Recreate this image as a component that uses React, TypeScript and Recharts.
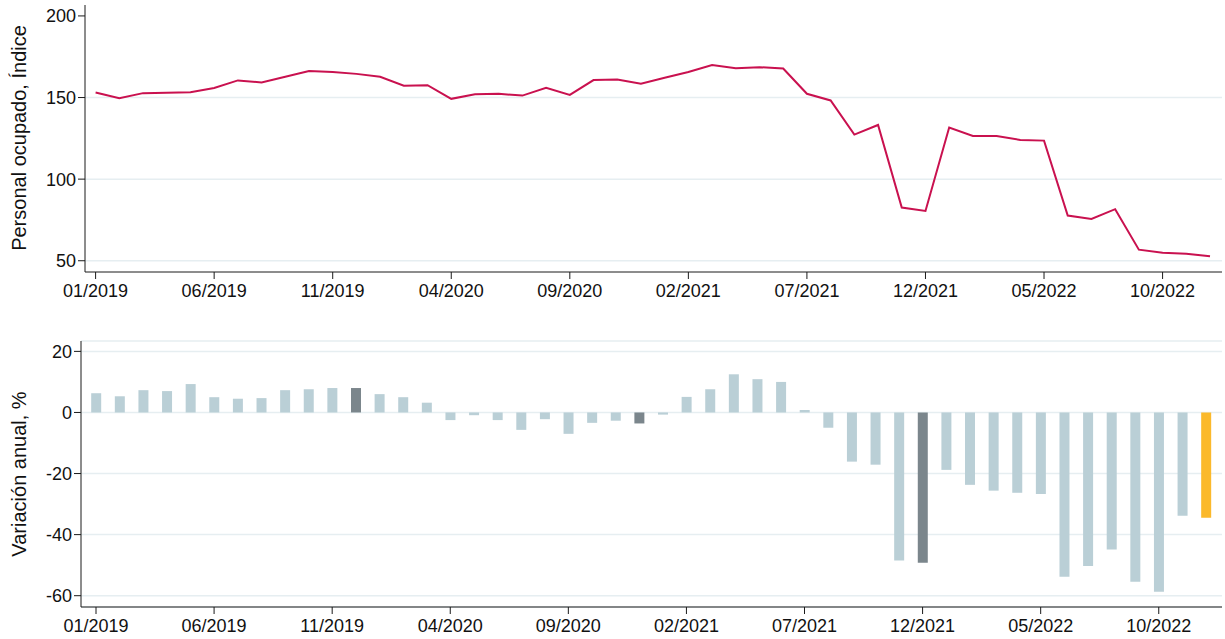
import React from 'react';
import { LineChart, Line, BarChart, Bar, Cell, XAxis, YAxis, CartesianGrid } from 'recharts';

const months = [
  '01/2019', '02/2019', '03/2019', '04/2019', '05/2019', '06/2019', '07/2019', '08/2019', '09/2019', '10/2019', '11/2019', '12/2019',
  '01/2020', '02/2020', '03/2020', '04/2020', '05/2020', '06/2020', '07/2020', '08/2020', '09/2020', '10/2020', '11/2020', '12/2020',
  '01/2021', '02/2021', '03/2021', '04/2021', '05/2021', '06/2021', '07/2021', '08/2021', '09/2021', '10/2021', '11/2021', '12/2021',
  '01/2022', '02/2022', '03/2022', '04/2022', '05/2022', '06/2022', '07/2022', '08/2022', '09/2022', '10/2022', '11/2022', '12/2022',
];

// personal ocupado, índice
const indexValues = [
  153.1, 149.6, 152.7, 153.0, 153.3, 155.9, 160.5, 159.2, 162.7, 166.2, 165.6, 164.5,
  162.7, 157.2, 157.6, 149.2, 152.0, 152.3, 151.2, 155.9, 151.6, 160.7, 161.0, 158.4,
  162.1, 165.6, 169.9, 168.0, 168.6, 167.8, 152.3, 148.2, 127.3, 133.2, 82.6, 80.5,
  131.6, 126.4, 126.4, 124.0, 123.6, 77.7, 75.6, 81.6, 56.8, 54.9, 54.3, 52.7,
];

// variación anual, %
const yoyValues = [
  6.3, 5.3, 7.3, 7.0, 9.3, 5.0, 4.5, 4.7, 7.3, 7.6, 8.0, 8.0,
  6.0, 5.0, 3.2, -2.5, -0.9, -2.5, -5.7, -2.2, -7.0, -3.4, -2.7, -3.6,
  -0.7, 5.1, 7.6, 12.5, 10.9, 10.0, 0.8, -5.0, -16.1, -17.1, -48.5, -49.2,
  -18.8, -23.7, -25.6, -26.3, -26.7, -53.8, -50.3, -44.9, -55.4, -58.7, -33.8, -34.5,
];

const decemberIdx = [11, 23, 35];
const lastIdx = 47;

const topTicks = [50, 100, 150, 200];
const bottomTicks = [20, 0, -20, -40, -60];
const xTickIdx = [0, 5, 10, 15, 20, 25, 30, 35, 40, 45];

const lineData = indexValues.map((v, i) => ({ i, m: months[i], v }));
const barData = yoyValues.map((v, i) => ({ i, m: months[i], v }));

const FONT = '"Liberation Sans", Arial, sans-serif';
const AXIS = '#1a1a1a';
const GRID = '#e6eef1';

function YTitle({ text, cy }: { text: string; cy: number }) {
  return (
    <text
      transform={`translate(19, ${cy}) rotate(-90)`}
      textAnchor="middle"
      dominantBaseline="central"
      fontSize={20}
      fill="#111"
      fontFamily={FONT}
    >
      {text}
    </text>
  );
}

function barColor(i: number) {
  if (i === lastIdx) return '#fbb92b';
  if (decemberIdx.includes(i)) return '#7b868c';
  return '#bacfd6';
}

export default function App() {
  const tick = { fontSize: 18, fill: '#111', fontFamily: FONT };
  return (
    <div style={{ position: 'absolute', left: 0, top: 0, width: 1225, height: 639, background: '#fff' }}>
      <LineChart width={1225} height={322} data={lineData} margin={{ top: 5, right: 3, bottom: 0, left: 0 }}>
        <CartesianGrid horizontal vertical={false} stroke={GRID} strokeWidth={1.5} horizontalValues={[50, 100, 150]} />
        <XAxis
          dataKey="i"
          type="number"
          domain={[-0.447, 47.506]}
          ticks={xTickIdx}
          tickFormatter={(i: number) => months[i]}
          height={50}
          tickSize={7}
          tickMargin={5}
          stroke={AXIS}
          tick={tick}
          interval={0}
        />
        <YAxis
          type="number"
          domain={[43.1, 206.7]}
          ticks={topTicks}
          width={85}
          tickSize={7}
          stroke={AXIS}
          tick={tick}
          interval={0}
          label={<YTitle text="Personal ocupado, Índice" cy={138} />}
        />
        <Line dataKey="v" stroke="#c9114f" strokeWidth={2} dot={false} isAnimationActive={false} />
      </LineChart>
      <BarChart width={1225} height={317} data={barData} margin={{ top: 19, right: 3, bottom: 0, left: 0 }}>
        <CartesianGrid horizontal vertical={false} stroke={GRID} strokeWidth={1.5} />
        <XAxis
          dataKey="m"
          type="category"
          scale="band"
          padding={{ left: 3.2, right: 4.2 }}
          interval={4}
          height={32}
          tickSize={7}
          tickMargin={5}
          stroke={AXIS}
          tick={tick}
        />
        <YAxis
          type="number"
          domain={[-63.7, 23.4]}
          ticks={bottomTicks}
          width={81}
          tickSize={7}
          stroke={AXIS}
          tick={tick}
          interval={0}
          label={<YTitle text="Variación anual, %" cy={152} />}
        />
        <Bar dataKey="v" barSize={10} isAnimationActive={false}>
          {barData.map((d) => (
            <Cell key={d.i} fill={barColor(d.i)} />
          ))}
        </Bar>
      </BarChart>
    </div>
  );
}
